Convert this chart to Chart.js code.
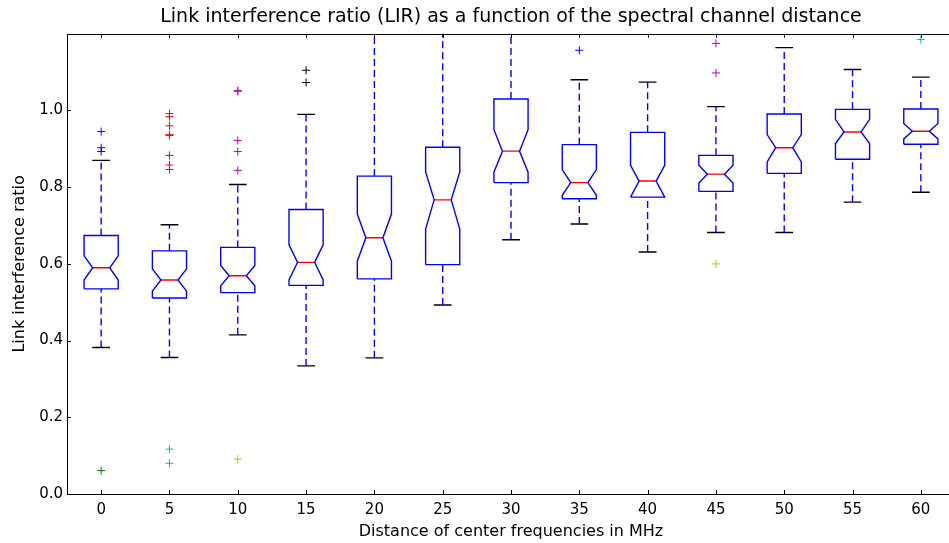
<!DOCTYPE html>
<html>
<head>
<meta charset="utf-8">
<script src="https://cdn.jsdelivr.net/npm/chart.js@4/dist/chart.umd.min.js"></script>
<style>
  html, body { margin: 0; padding: 0; background: #fff; overflow: hidden; }
  #wrap { width: 949px; height: 543px; overflow: hidden; }
</style>
</head>
<body>
<div id="wrap"><canvas id="chart" width="1022" height="543"></canvas></div>
<script>
// Channel distance (MHz) of each box
const positions = [0, 5, 10, 15, 20, 25, 30, 35, 40, 45, 50, 55, 60];

// Box statistics
const whiskerLow  = [0.382, 0.356, 0.415, 0.334, 0.355, 0.493, 0.663, 0.704, 0.631, 0.682, 0.682, 0.761, 0.787];
const q1          = [0.535, 0.511, 0.525, 0.544, 0.561, 0.598, 0.812, 0.770, 0.774, 0.789, 0.836, 0.873, 0.912];
const notchLow    = [0.558, 0.529, 0.543, 0.558, 0.607, 0.691, 0.839, 0.779, 0.774, 0.811, 0.866, 0.914, 0.926];
const medians     = [0.590, 0.558, 0.569, 0.604, 0.668, 0.767, 0.894, 0.812, 0.816, 0.834, 0.903, 0.944, 0.946];
const notchHigh   = [0.621, 0.587, 0.596, 0.650, 0.730, 0.840, 0.950, 0.846, 0.857, 0.857, 0.937, 0.977, 0.966];
const q3          = [0.674, 0.634, 0.643, 0.742, 0.829, 0.904, 1.030, 0.911, 0.943, 0.883, 0.991, 1.003, 1.004];
const whiskerHigh = [0.870, 0.702, 0.807, 0.990, 1.300, 1.300, 1.300, 1.080, 1.074, 1.010, 1.164, 1.107, 1.087];

// Outliers above / below the whiskers
const fliersHigh = [
    [0.945, 0.903, 0.893],
    [0.992, 0.984, 0.960, 0.937, 0.935, 0.883, 0.858, 0.846],
    [1.052, 1.050, 0.922, 0.893, 0.844],
    [1.105, 1.073],
    [], [], [],
    [1.157],
    [],
    [1.175, 1.098],
    [], [],
    [1.185]
];
const fliersLow = [[0.061], [0.117, 0.080], [0.091], [], [], [], [], [], [], [0.600], [], [], []];

// Y axis ticks
const yTicks = [0, 0.2, 0.4, 0.6, 0.8, 1.0];

// matplotlib style colours
const flierColors = ['#0000ff', '#008000', '#ff0000', '#00bfbf', '#bf00bf', '#bfbf00', '#000000'];
const boxColor = '#0000ff';
const medianColor = '#ff0000';
const capColor = '#000000';

// half widths in x data units
const boxHalf = 1.25;
const notchHalf = 0.625;
const capHalf = 0.65;

const FONT = "'DejaVu Sans', sans-serif";

function seg(data, color, dash) {
    return {
        type: 'scatter',
        data,
        showLine: true,
        borderColor: color,
        borderWidth: 1.4,
        borderDash: dash || [],
        pointRadius: 0,
        fill: false,
        tension: 0
    };
}

const datasets = [];
positions.forEach((x, i) => {
    // whiskers
    datasets.push(seg([{x, y: whiskerLow[i]}, {x, y: q1[i]}], boxColor, [7, 4]));
    datasets.push(seg([{x, y: q3[i]}, {x, y: whiskerHigh[i]}], boxColor, [7, 4]));
    // caps
    datasets.push(seg([{x: x - capHalf, y: whiskerLow[i]}, {x: x + capHalf, y: whiskerLow[i]}], capColor));
    datasets.push(seg([{x: x - capHalf, y: whiskerHigh[i]}, {x: x + capHalf, y: whiskerHigh[i]}], capColor));
    // notched box outline
    datasets.push(seg([
        {x: x - boxHalf, y: q1[i]},
        {x: x - boxHalf, y: notchLow[i]},
        {x: x - notchHalf, y: medians[i]},
        {x: x - boxHalf, y: notchHigh[i]},
        {x: x - boxHalf, y: q3[i]},
        {x: x + boxHalf, y: q3[i]},
        {x: x + boxHalf, y: notchHigh[i]},
        {x: x + notchHalf, y: medians[i]},
        {x: x + boxHalf, y: notchLow[i]},
        {x: x + boxHalf, y: q1[i]},
        {x: x - boxHalf, y: q1[i]}
    ], boxColor));
    // median
    datasets.push(seg([{x: x - notchHalf, y: medians[i]}, {x: x + notchHalf, y: medians[i]}], medianColor));
    // fliers
    [[fliersHigh[i], flierColors[(2 * i) % 7]], [fliersLow[i], flierColors[(2 * i + 1) % 7]]].forEach(([vals, c]) => {
        if (!vals.length) return;
        datasets.push({
            type: 'scatter',
            data: vals.map(v => ({x, y: v})),
            pointStyle: 'cross',
            pointRadius: 4,
            pointBorderWidth: 1,
            borderColor: c,
            backgroundColor: c,
            showLine: false
        });
    });
});

// frame with inward ticks like matplotlib
const framePlugin = {
    id: 'frame',
    afterDraw(chart) {
        const {ctx, chartArea: a, scales: {x, y}} = chart;
        ctx.save();
        ctx.strokeStyle = '#000';
        ctx.lineWidth = 1;
        ctx.strokeRect(Math.round(a.left) + 0.5, Math.round(a.top) + 0.5,
            Math.round(a.right - a.left), Math.round(a.bottom - a.top));
        ctx.beginPath();
        x.ticks.forEach(t => {
            const px = Math.round(x.getPixelForValue(t.value)) + 0.5;
            ctx.moveTo(px, a.bottom); ctx.lineTo(px, a.bottom - 4);
            ctx.moveTo(px, a.top); ctx.lineTo(px, a.top + 4);
        });
        y.ticks.forEach(t => {
            const py = Math.round(y.getPixelForValue(t.value)) + 0.5;
            ctx.moveTo(a.left, py); ctx.lineTo(a.left + 4, py);
            ctx.moveTo(a.right, py); ctx.lineTo(a.right - 4, py);
        });
        ctx.stroke();
        ctx.restore();
    }
};

new Chart(document.getElementById('chart'), {
    type: 'scatter',
    data: { datasets },
    plugins: [framePlugin],
    options: {
        responsive: false,
        animation: false,
        layout: { padding: { left: 0, right: 67, top: 0, bottom: 0 } },
        plugins: {
            legend: { display: false },
            tooltip: { enabled: false },
            title: {
                display: true,
                fullSize: false,
                text: 'Link interference ratio (LIR) as a function of the spectral channel distance',
                color: '#000',
                font: { family: FONT, size: 19, weight: 'normal' },
                padding: { top: 6, bottom: 5 }
            }
        },
        scales: {
            x: {
                type: 'linear',
                min: -2.5,
                max: 62.5,
                afterBuildTicks: axis => { axis.ticks = positions.map(v => ({value: v})); },
                afterFit: axis => { axis.height = 49; },
                grid: { display: false, drawTicks: false },
                border: { display: false },
                ticks: {
                    color: '#000',
                    padding: 7,
                    maxRotation: 0,
                    font: { family: FONT, size: 15 }
                },
                title: {
                    display: true,
                    text: 'Distance of center frequencies in MHz',
                    color: '#000',
                    font: { family: FONT, size: 16 },
                    padding: { top: 0, bottom: 2 }
                }
            },
            y: {
                min: 0,
                max: 1.2,
                afterBuildTicks: axis => { axis.ticks = yTicks.map(v => ({value: v})); },
                afterFit: axis => { axis.width = 67; },
                grid: { display: false, drawTicks: false },
                border: { display: false },
                ticks: {
                    color: '#000',
                    padding: 4,
                    font: { family: FONT, size: 15 },
                    callback: v => v.toFixed(1)
                },
                title: {
                    display: true,
                    text: 'Link interference ratio',
                    color: '#000',
                    font: { family: FONT, size: 16 },
                    padding: { top: 10, bottom: 0 }
                }
            }
        }
    }
});
</script>
</body>
</html>
